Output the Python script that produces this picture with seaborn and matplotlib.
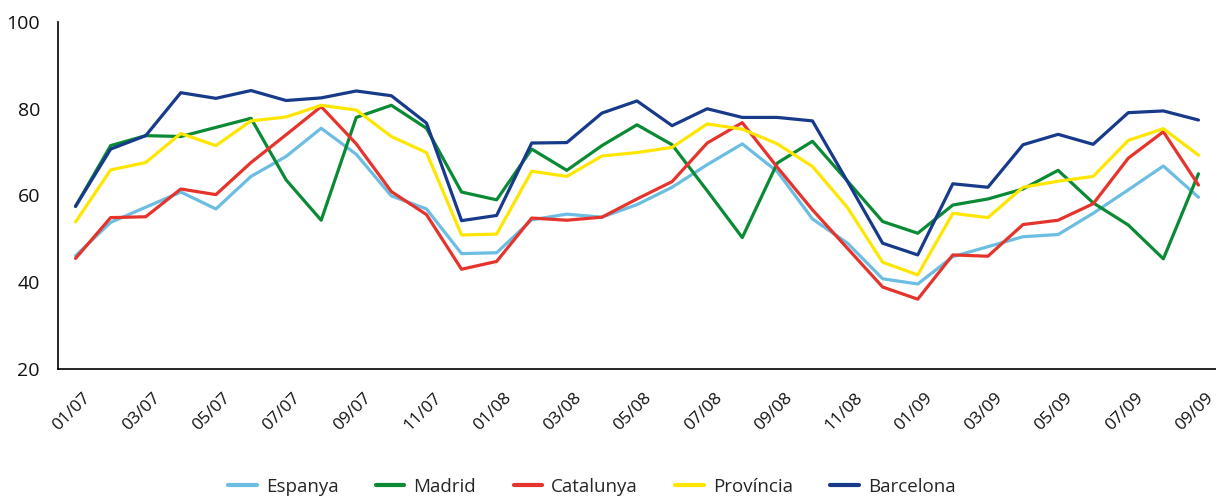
import pandas as pd
import matplotlib
matplotlib.use("Agg")
import matplotlib.pyplot as plt
import matplotlib.transforms as mtransforms
import seaborn as sns

# monthly values, 01/07 .. 09/09
months = [f"{m:02d}/{y:02d}" for y in (7, 8, 9) for m in range(1, 13)][:33]
tick_labels = months[::2]

espanya = [46.1, 53.8, 57.3, 60.8, 56.9, 64.4, 69.0, 75.5, 69.5, 59.9, 56.9, 46.6, 46.8, 54.4, 55.7, 55.0, 57.9,
           61.9, 67.1, 71.9, 65.5, 54.6, 49.0, 40.8, 39.6, 45.9, 48.2, 50.5, 51.0, 55.9, 61.3, 66.8, 59.6]
madrid = [57.5, 71.5, 73.8, 73.6, 75.7, 77.8, 63.6, 54.3, 78.0, 80.8, 75.5, 60.8, 59.0, 70.7, 65.8, 71.5, 76.3,
          71.7, 61.1, 50.3, 67.5, 72.5, 63.3, 54.0, 51.3, 57.8, 59.2, 61.5, 65.8, 58.3, 53.2, 45.4, 65.0]
catalunya = [45.5, 54.9, 55.1, 61.5, 60.2, 67.6, 74.0, 80.5, 71.9, 60.9, 55.6, 43.0, 44.8, 54.8, 54.3, 55.0, 59.2,
             63.2, 72.1, 76.8, 66.5, 56.7, 47.8, 38.9, 36.1, 46.3, 46.0, 53.3, 54.3, 58.1, 68.6, 74.7, 62.4]
provincia = [53.9, 65.9, 67.6, 74.3, 71.5, 77.2, 78.1, 80.8, 79.7, 73.6, 69.9, 50.9, 51.1, 65.6, 64.4, 69.1, 69.9,
             71.1, 76.5, 75.3, 71.9, 66.7, 57.2, 44.6, 41.7, 55.9, 54.9, 61.9, 63.3, 64.4, 72.7, 75.4, 69.3]
barcelona = [57.5, 70.7, 73.8, 83.7, 82.4, 84.2, 81.9, 82.5, 84.1, 83.0, 76.7, 54.2, 55.4, 72.1, 72.2, 79.0, 81.8,
             76.1, 80.0, 78.0, 78.0, 77.2, 63.2, 49.0, 46.3, 62.7, 61.9, 71.7, 74.1, 71.8, 79.1, 79.5, 77.4]

series = {
    "Espanya": espanya,
    "Madrid": madrid,
    "Catalunya": catalunya,
    "Província": provincia,
    "Barcelona": barcelona,
}
colors = ["#6cbde2", "#0a8a34", "#e5342c", "#ffe600", "#173a8a"]

rows = []
for name, vals in series.items():
    for i, v in enumerate(vals):
        rows.append({"idx": i, "valor": v, "serie": name})
df = pd.DataFrame(rows)

sns.set_style("white")
plt.rcParams["font.family"] = ["Open Sans", "DejaVu Sans"]

fig = plt.figure(figsize=(12.16, 4.97), dpi=100)
ax = fig.add_axes([58 / 1216, 1 - 369 / 497, 1 - 58 / 1216, (369 - 22) / 497])

sns.lineplot(data=df, x="idx", y="valor", hue="serie", hue_order=list(series.keys()),
             palette=colors, linewidth=2.3, ax=ax, legend=True)

ax.set_xlim(-0.5, 32.5)
ax.set_ylim(20, 100)
ax.set_yticks([20, 40, 60, 80, 100])
ax.set_xticks(range(0, 33, 2))
ax.set_xticklabels(tick_labels, rotation=45, ha="center")
ax.set_xlabel("")
ax.set_ylabel("")

for s in ("top", "right"):
    ax.spines[s].set_visible(False)
for s in ("left", "bottom"):
    ax.spines[s].set_color("black")
    ax.spines[s].set_linewidth(1.2)

ax.tick_params(axis="y", direction="in", length=21, width=0.9, color="#333333",
               labelsize=14, pad=13, labelcolor="#111111")
ax.tick_params(axis="x", length=0, labelsize=12.5, pad=15, labelcolor="#111111")

# nudge the rotated month labels a little to the left
shift = mtransforms.ScaledTranslation(-4 / 100, 0, fig.dpi_scale_trans)
for lab in ax.get_xticklabels():
    lab.set_transform(lab.get_transform() + shift)

leg = ax.legend(loc="center", bbox_to_anchor=(592 / 1216, 10 / 497), bbox_transform=fig.transFigure,
                ncol=5, frameon=False, fontsize=13.5, handlelength=1.5, handletextpad=0.5,
                columnspacing=2.0)
for h in leg.get_lines():
    h.set_linewidth(3)

fig.savefig("out.png", dpi=100)
